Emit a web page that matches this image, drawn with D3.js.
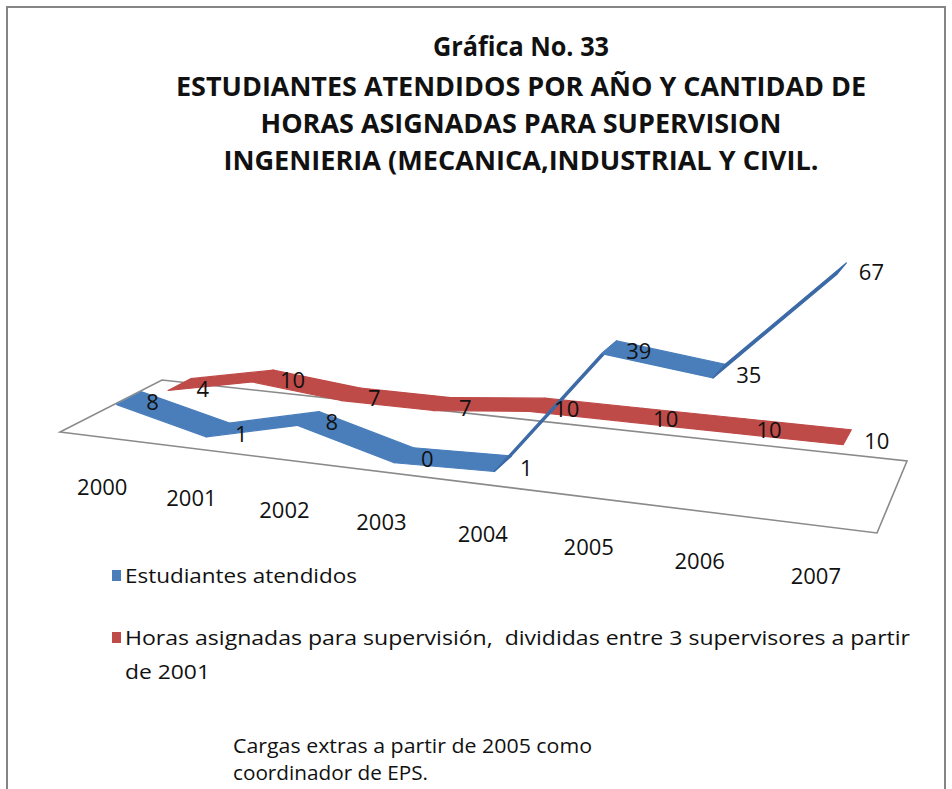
<!DOCTYPE html>
<html>
<head>
<meta charset="utf-8">
<script src="https://cdn.jsdelivr.net/npm/d3@7"></script>
<style>
  html, body { margin: 0; padding: 0; background: #fff; }
  svg { display: block; }
  text { font-family: "Open Sans", "Liberation Sans", sans-serif; fill: #111; }
</style>
</head>
<body>
<svg id="chart" width="952" height="789"></svg>
<script>
// ---------------- data ----------------
const years = ["2000", "2001", "2002", "2003", "2004", "2005", "2006", "2007"];
const seriesNames = ["Estudiantes atendidos", "Horas asignadas para supervisión"];
const estudiantes = [8, 1, 8, 0, 1, 39, 35, 67];
const horas = [4, 10, 7, 7, 10, 10, 10, 10];
const titleLines = [
  "Gráfica No. 33",
  "ESTUDIANTES ATENDIDOS POR AÑO Y CANTIDAD DE",
  "HORAS ASIGNADAS PARA SUPERVISION",
  "INGENIERIA (MECANICA,INDUSTRIAL Y CIVIL."
];
const legendLabels = [
  ["Estudiantes atendidos"],
  ["Horas asignadas para supervisión,  divididas entre 3 supervisores a partir", "de 2001"]
];
const noteLines = ["Cargas extras a partir de 2005 como", "coordinador de EPS."];

// ---------------- layout ----------------
const colors = ["#4a7ebb", "#be4b48"];
const darker = ["#3c6aa6", "#a83e3b"];
const svg = d3.select("#chart");

// frame
svg.append("rect").attr("x", 7).attr("y", 7).attr("width", 938).attr("height", 800)
  .attr("fill", "#fff").attr("stroke", "#858585").attr("stroke-width", 2);

// title
const titleX = 521;
const titleBase = [56, 96, 133, 170];
const titleW = [176, 690, 521, 595];
titleLines.forEach((t, i) => {
  svg.append("text").attr("x", titleX).attr("y", titleBase[i])
    .attr("text-anchor", "middle").attr("font-size", 26).attr("font-weight", 700)
    .attr("textLength", titleW[i]).attr("lengthAdjust", "spacingAndGlyphs")
    .text(t);
});

// ---------------- 3D projection (floor homography) ----------------
const FL = [60, 432], FR = [877, 533], BR = [907, 461], BL = [162, 380];
const H = (() => {
  const [x0, y0] = FL, [x1, y1] = FR, [x2, y2] = BR, [x3, y3] = BL;
  const dx1 = x1 - x2, dx2 = x3 - x2, dx3 = x0 - x1 + x2 - x3;
  const dy1 = y1 - y2, dy2 = y3 - y2, dy3 = y0 - y1 + y2 - y3;
  const det = dx1 * dy2 - dx2 * dy1;
  const g = (dx3 * dy2 - dx2 * dy3) / det;
  const h = (dx1 * dy3 - dx3 * dy1) / det;
  return {
    a: x1 - x0 + g * x1, b: x3 - x0 + h * x3, c: x0,
    d: y1 - y0 + g * y1, e: y3 - y0 + h * y3, f: y0, g, h
  };
})();
const LEAN = 1.8e-4, CX = 480;

const uScale = d3.scalePoint().domain(years).range([0, 1]).padding(0.5);
const wScale = d3.scaleBand().domain(seriesNames).range([0, 1]);
const vScale = d3.scaleLinear().domain([0, 70]).range([0, 217]);

function proj(u, w, v) {
  const den = H.g * u + H.h * w + 1;
  const x = (H.a * u + H.b * w + H.c) / den;
  const y = (H.d * u + H.e * w + H.f) / den;
  const hp = vScale(v) / den;
  return [x + (x - CX) * hp * LEAN, y - hp];
}

// floor
const floorPts = [[0, 0], [1, 0], [1, 1], [0, 1]].map(([u, w]) => proj(u, w, 0));
svg.append("path").attr("d", "M" + floorPts.map(p => p.join(",")).join("L") + "Z")
  .attr("fill", "#fff").attr("stroke", "#8a8a8a").attr("stroke-width", 1.6);

// ribbons (back series first)
const allSeries = [estudiantes, horas];
const order = [1, 0];
order.forEach(si => {
  const vals = allSeries[si];
  const w0 = wScale(seriesNames[si]) + wScale.bandwidth() * 0.28;
  const w1 = wScale(seriesNames[si]) + wScale.bandwidth() * 0.76;
  const g = svg.append("g");
  for (let i = 0; i < years.length - 1; i++) {
    const ua = uScale(years[i]), ub = uScale(years[i + 1]);
    const pts = [proj(ua, w0, vals[i]), proj(ub, w0, vals[i + 1]),
                 proj(ub, w1, vals[i + 1]), proj(ua, w1, vals[i])];
    const rising = vals[i + 1] - vals[i] > 15;
    g.append("path").attr("d", "M" + pts.map(p => p.join(",")).join("L") + "Z")
      .attr("fill", rising ? darker[si] : colors[si])
      .attr("stroke", rising ? darker[si] : colors[si])
      .attr("stroke-width", 1.2).attr("stroke-linejoin", "round");
  }
});

// data labels
[1, 0].forEach(si => {
  const vals = allSeries[si];
  const wm = wScale(seriesNames[si]) + wScale.bandwidth() * 0.52;
  years.forEach((yr, i) => {
    const p = proj(uScale(yr), wm, vals[i]);
    svg.append("text").attr("x", p[0] + 17).attr("y", p[1] + 3)
      .attr("dominant-baseline", "central").attr("font-size", 22)
      .text(vals[i]);
  });
});

// category labels
years.forEach(yr => {
  const p = proj(uScale(yr), 0, 0);
  svg.append("text").attr("x", p[0] - 1).attr("y", p[1] + 49)
    .attr("text-anchor", "middle").attr("dominant-baseline", "central")
    .attr("font-size", 22).text(yr);
});

// legend
const legendY = [[583], [645, 679]];
const legendW = [[232], [785, 85]];
const legendSqY = [570, 632];
legendLabels.forEach((lines, si) => {
  svg.append("rect").attr("x", 112).attr("y", legendSqY[si]).attr("width", 9).attr("height", 11)
    .attr("fill", colors[si]);
  lines.forEach((t, li) => {
    svg.append("text").attr("x", 125).attr("y", legendY[si][li])
      .attr("font-size", 20).style("white-space", "pre")
      .attr("textLength", legendW[si][li]).attr("lengthAdjust", "spacingAndGlyphs")
      .text(t);
  });
});

// note
const noteY = [753, 780], noteW = [359, 195];
noteLines.forEach((t, i) => {
  svg.append("text").attr("x", 233).attr("y", noteY[i]).attr("font-size", 20)
    .attr("textLength", noteW[i]).attr("lengthAdjust", "spacingAndGlyphs").text(t);
});
</script>
</body>
</html>
